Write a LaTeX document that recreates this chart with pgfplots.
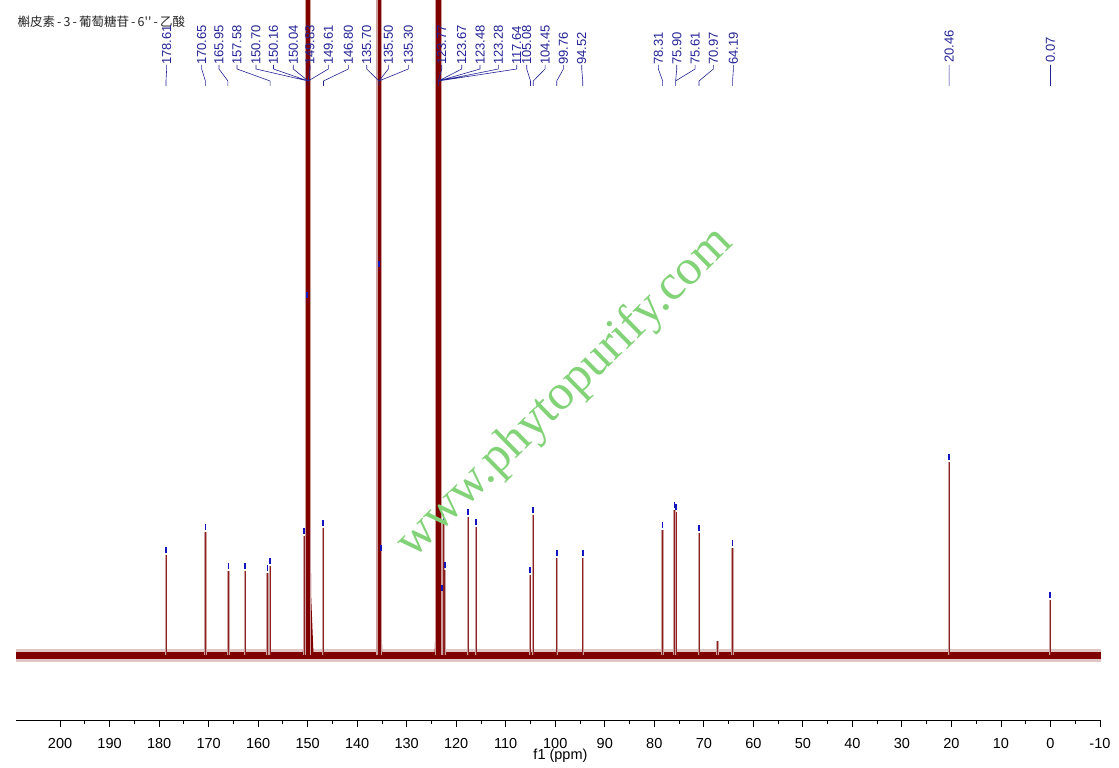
\documentclass[border=0pt]{standalone}
\usepackage{pgfplots}
\pgfplotsset{compat=1.18}
\usepackage{pgfplotstable}
\usepackage{fontspec}
\setmainfont{Liberation Sans}
\newfontfamily\wmfont{Liberation Serif}
\newfontfamily\cjk{Noto Sans CJK SC}

\definecolor{spec}{RGB}{128,0,0}
\definecolor{halo}{RGB}{205,160,160}
\definecolor{lbl}{RGB}{35,35,150}
\definecolor{pick}{RGB}{20,20,190}
\definecolor{wm}{RGB}{130,210,120}

% thin peaks: ppm, height
\pgfplotstableread{
x h
178.61 100
170.65 123
165.95 84
162.60 84
158.07 82
157.58 89
150.75 119
146.85 127
135.25 102
122.92 62
122.60 133
122.32 85
117.64 138
116.00 128
105.08 80
104.45 140
99.70 97
94.45 97
78.31 125
75.90 145
75.61 143
70.97 122
67.20 14
64.19 107
20.46 193
0.07 55
}\thinpeaks

% small blue peak picks
\pgfplotstableread{
x h
178.61 105
170.65 128
165.95 89
162.60 89
158.07 87
157.58 94
150.75 124
150.10 360
146.85 132
135.65 391
135.25 107
122.92 67
122.60 138
122.32 90
117.64 143
116.00 133
105.08 85
104.45 145
99.70 102
94.45 102
78.31 130
75.90 150
75.61 148
70.97 127
64.19 112
20.46 198
0.07 60
}\picks

% label-to-peak connectors
\pgfplotstableread{
x y
178.47 590
178.47 586
178.61 574
178.61 569
nan nan
171.40 590
171.40 586
170.65 574
170.65 569
nan nan
167.91 590
167.91 586
166.10 574
166.10 569
nan nan
164.27 590
164.27 586
157.58 574
157.58 569
nan nan
160.43 590
160.43 586
149.90 574
149.90 569
nan nan
156.90 590
156.90 586
149.90 574
149.90 569
nan nan
152.90 590
152.90 586
149.90 574
149.90 569
nan nan
149.53 590
149.53 586
149.90 574
149.90 569
nan nan
145.83 590
145.83 586
149.90 574
149.90 569
nan nan
141.79 590
141.79 586
146.80 574
146.80 569
nan nan
138.07 590
138.07 586
135.60 574
135.60 569
nan nan
133.71 590
133.71 586
135.60 574
135.60 569
nan nan
129.67 590
129.67 586
135.60 574
135.60 569
nan nan
122.92 590
122.92 586
123.60 574
123.60 569
nan nan
118.88 590
118.88 586
123.60 574
123.60 569
nan nan
115.19 590
115.19 586
123.60 574
123.60 569
nan nan
111.49 590
111.49 586
123.60 574
123.60 569
nan nan
107.78 590
107.78 586
123.60 574
123.60 569
nan nan
105.76 590
105.76 586
105.00 574
105.00 569
nan nan
102.06 590
102.06 586
104.45 574
104.45 569
nan nan
98.36 590
98.36 586
99.70 574
99.70 569
nan nan
94.65 590
94.65 586
94.45 574
94.45 569
nan nan
79.18 590
79.18 586
78.31 574
78.31 569
nan nan
75.46 590
75.46 586
75.70 574
75.70 569
nan nan
71.76 590
71.76 586
75.70 574
75.70 569
nan nan
68.07 590
68.07 586
70.97 574
70.97 569
nan nan
64.03 590
64.03 586
64.19 574
64.19 569
nan nan
20.46 590
20.46 569
nan nan
0.00 590
0.00 569
}\links

\begin{document}
\begin{tikzpicture}[
  lab/.style={rotate=90, anchor=west, inner sep=0pt, text=lbl,
    font=\fontsize{13}{14}\selectfont}]
\begin{axis}[
  at={(0,0)}, anchor=south west,
  scale only axis, width=1085pt, height=720pt,
  xmin=-10.2, xmax=208.9, x dir=reverse,
  ymin=-65, ymax=655,
  axis x line=bottom, axis y line=none,
  x axis line style={-, line width=0.9pt},
  xtick={-10,0,...,200}, minor x tick num=1,
  tick align=outside, major tick length=7pt, minor tick length=4pt,
  tick style={black, line width=0.8pt},
  xticklabel style={anchor=base, yshift=-22pt},
  ticklabel style={font=\fontsize{14.5}{16}\selectfont},
  /pgf/number format/assume math mode=true,
  xlabel={f1 (ppm)},
  xlabel style={at={(axis description cs:0.5,0)}, anchor=base, yshift=-40pt,
    xshift=2pt, font=\fontsize{14.5}{16}\selectfont},
  clip mode=individual,
  unbounded coords=jump,
]
% baseline band
\addplot[halo, line width=13pt, opacity=0.6] coordinates {(208.9,-1) (-10.2,-1)};
\addplot[spec, line width=7pt] coordinates {(208.9,-1) (-10.2,-1)};

% broad bases of the three tall peaks
\addplot[fill=spec, draw=none] coordinates {(151.0,-2) (150.5,60) (150.35,190) (149.45,190) (149.3,60) (148.8,-2)};
\addplot[fill=spec, draw=none] coordinates {(136.1,-2) (135.8,40) (135.7,87) (135.3,87) (135.2,40) (134.9,-2)};
\addplot[fill=spec, draw=none] coordinates {(124.4,-2) (124.0,50) (123.9,176) (123.2,176) (122.9,50) (122.2,-2)};

% thin peaks
\addplot[ycomb, halo, line width=2.4pt] table {\thinpeaks};
\addplot[ycomb, spec, line width=0.8pt, opacity=0.8] table {\thinpeaks};

% tall peaks, cut off at the top
\addplot[halo, line width=6.5pt] coordinates {(149.9,0) (149.9,900)};
\addplot[spec, line width=4pt] coordinates {(149.9,0) (149.9,900)};
\addplot[halo, line width=6pt] coordinates {(135.5,0) (135.5,900)};
\addplot[spec, line width=3.5pt] coordinates {(135.5,0) (135.5,900)};
\addplot[halo, line width=7pt] coordinates {(123.6,0) (123.6,900)};
\addplot[spec, line width=4.5pt] coordinates {(123.6,0) (123.6,900)};

% peak picks and connectors
\addplot[only marks, mark=|, mark size=3pt, pick, mark options={line width=1.6pt}] table {\picks};
\addplot[lbl, line width=0.6pt] table {\links};

% watermark
\node[rotate=44.5, text=wm, font=\wmfont\fontsize{50}{56}\selectfont]
  at (axis cs:98,262) {www.phytopurify.com};

% title
\node[anchor=west, inner sep=0pt, font=\cjk\fontsize{12.5}{14}\selectfont, text=black!85]
  at (axis cs:208.6,633) {槲皮素\,-\,3\,-\,葡萄糖苷\,-\,6''\,-\,乙酸};

% peak labels
\node[lab] at (axis cs:178.47,590) {178.61};
\node[lab] at (axis cs:171.40,590) {170.65};
\node[lab] at (axis cs:167.91,590) {165.95};
\node[lab] at (axis cs:164.27,590) {157.58};
\node[lab] at (axis cs:160.43,590) {150.70};
\node[lab] at (axis cs:156.90,590) {150.16};
\node[lab] at (axis cs:152.90,590) {150.04};
\node[lab] at (axis cs:149.53,590) {149.83};
\node[lab] at (axis cs:145.83,590) {149.61};
\node[lab] at (axis cs:141.79,590) {146.80};
\node[lab] at (axis cs:138.07,590) {135.70};
\node[lab] at (axis cs:133.71,590) {135.50};
\node[lab] at (axis cs:129.67,590) {135.30};
\node[lab] at (axis cs:122.92,590) {123.77};
\node[lab] at (axis cs:118.88,590) {123.67};
\node[lab] at (axis cs:115.19,590) {123.48};
\node[lab] at (axis cs:111.49,590) {123.28};
\node[lab] at (axis cs:107.78,590) {117.64};
\node[lab] at (axis cs:105.76,590) {105.08};
\node[lab] at (axis cs:102.06,590) {104.45};
\node[lab] at (axis cs:98.36,590) {99.76};
\node[lab] at (axis cs:94.65,590) {94.52};
\node[lab] at (axis cs:79.18,590) {78.31};
\node[lab] at (axis cs:75.46,590) {75.90};
\node[lab] at (axis cs:71.76,590) {75.61};
\node[lab] at (axis cs:68.07,590) {70.97};
\node[lab] at (axis cs:64.03,590) {64.19};
\node[lab] at (axis cs:20.46,592) {20.46};
\node[lab] at (axis cs:0.00,592) {0.07};
\end{axis}
\pgfresetboundingbox
\path (-16pt,-48pt) rectangle (1103pt,720pt);
\end{tikzpicture}
\end{document}
